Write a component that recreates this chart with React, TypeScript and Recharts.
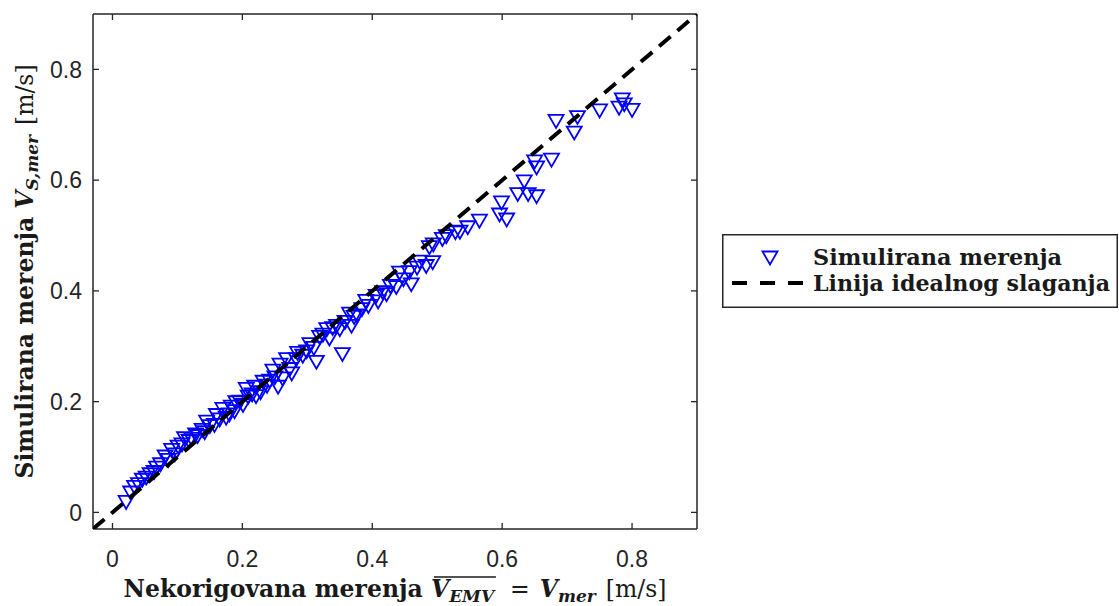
import { useLayoutEffect, useRef, useState } from 'react';
import { ScatterChart, Scatter, XAxis, YAxis, Label } from 'recharts';

// simulated measurements (x = uncorrected, y = simulated)
const simX = [
  0.021, 0.028, 0.034, 0.040, 0.046, 0.052, 0.058, 0.064, 0.068, 0.074,
  0.081, 0.086, 0.091, 0.096, 0.101, 0.107, 0.111, 0.118, 0.122, 0.128,
  0.131, 0.138, 0.142, 0.145, 0.150, 0.157, 0.160, 0.165, 0.170, 0.175,
  0.180, 0.183, 0.188, 0.190, 0.196, 0.201, 0.206, 0.209, 0.215, 0.219,
  0.221, 0.228, 0.232, 0.238, 0.242, 0.247, 0.250, 0.255, 0.258, 0.262,
  0.268, 0.273, 0.276, 0.283, 0.285, 0.293, 0.299, 0.304, 0.310, 0.314,
  0.319, 0.324, 0.330, 0.334, 0.339, 0.345, 0.350, 0.354, 0.358, 0.365,
  0.368, 0.372, 0.377, 0.384, 0.390, 0.394, 0.406, 0.409, 0.416, 0.422,
  0.428, 0.437, 0.442, 0.448, 0.457, 0.460, 0.469, 0.473, 0.483, 0.488,
  0.493, 0.494, 0.508, 0.514, 0.528, 0.535, 0.547, 0.565, 0.596, 0.599,
  0.607, 0.624, 0.634, 0.640, 0.650, 0.653, 0.653, 0.676, 0.683, 0.711,
  0.716, 0.750, 0.780, 0.785, 0.788, 0.800,
];
const simY = [
  0.018, 0.035, 0.045, 0.050, 0.058, 0.062, 0.068, 0.072, 0.080, 0.086,
  0.100, 0.094, 0.112, 0.104, 0.118, 0.122, 0.133, 0.128, 0.132, 0.140,
  0.137, 0.148, 0.144, 0.163, 0.155, 0.157, 0.175, 0.167, 0.186, 0.170,
  0.176, 0.190, 0.182, 0.198, 0.199, 0.193, 0.222, 0.208, 0.212, 0.226,
  0.209, 0.216, 0.235, 0.228, 0.237, 0.255, 0.243, 0.226, 0.266, 0.241,
  0.276, 0.258, 0.250, 0.276, 0.287, 0.282, 0.290, 0.303, 0.296, 0.271,
  0.316, 0.320, 0.330, 0.313, 0.332, 0.336, 0.330, 0.285, 0.343, 0.358,
  0.336, 0.352, 0.355, 0.366, 0.381, 0.372, 0.390, 0.380, 0.397, 0.393,
  0.408, 0.406, 0.432, 0.420, 0.433, 0.411, 0.441, 0.452, 0.444, 0.478,
  0.451, 0.483, 0.493, 0.498, 0.505, 0.506, 0.514, 0.526, 0.537, 0.559,
  0.528, 0.574, 0.597, 0.574, 0.633, 0.570, 0.622, 0.636, 0.706, 0.685,
  0.713, 0.725, 0.730, 0.745, 0.736, 0.726,
];

// ideal agreement line y = x
const idealX = [-0.03, 0.9];
const idealY = [-0.03, 0.9];

const axisTicks = [0, 0.2, 0.4, 0.6, 0.8];
const axisDomain: [number, number] = [-0.03, 0.9];

const simData = simX.map((x, i) => ({ x, y: simY[i] }));
const idealData = idealX.map((x, i) => ({ x, y: idealY[i] }));

const AXIS = '#262626';
const BLUE = '#0000ff';
const SERIF = '"DejaVu Serif", serif';
const SANS = '"Liberation Sans", Arial, sans-serif';
const TITLE_SIZE = 23.5;
const SUB_SIZE = 17;
const TICK_LEN = 6;
const X_MARGIN = 22;
const Y_MARGIN = 11;

// MATLAB style ticks: short marks pointing into the plot
function BottomTick(props: any) {
  const { x, y, payload } = props;
  const base = y - X_MARGIN;
  return (
    <g>
      <line x1={x} x2={x} y1={base} y2={base - TICK_LEN} stroke={AXIS} strokeWidth={1.3} />
      <text x={x} y={y} dy="0.71em" textAnchor="middle" fill={AXIS} fontSize={23} fontFamily={SANS}>
        {String(payload.value)}
      </text>
    </g>
  );
}

function LeftTick(props: any) {
  const { x, y, payload } = props;
  const base = x + Y_MARGIN;
  return (
    <g>
      <line x1={base} x2={base + TICK_LEN} y1={y} y2={y} stroke={AXIS} strokeWidth={1.3} />
      <text x={x} y={y} dy="0.355em" textAnchor="end" fill={AXIS} fontSize={23} fontFamily={SANS}>
        {String(payload.value)}
      </text>
    </g>
  );
}

function TopTick(props: any) {
  const { x, y } = props;
  return <line x1={x} x2={x} y1={y} y2={y + TICK_LEN} stroke={AXIS} strokeWidth={1.3} />;
}

function RightTick(props: any) {
  const { x, y } = props;
  return <line x1={x} x2={x - TICK_LEN} y1={y} y2={y} stroke={AXIS} strokeWidth={1.3} />;
}

function DownTriangle(props: any) {
  const { cx, cy } = props;
  if (cx == null || cy == null) return <g />;
  const hw = 7.5;
  const hh = 6.5;
  return (
    <path
      d={`M${cx - hw},${cy - hh}L${cx + hw},${cy - hh}L${cx},${cy + hh}Z`}
      fill="none"
      stroke={BLUE}
      strokeWidth={1.8}
    />
  );
}

const NoShape = () => <g />;

function XTitle(props: any) {
  const vb = props.viewBox || { x: 0, y: 0, width: 0, height: 0 };
  const cx = vb.x + vb.width / 2;
  const y = vb.y + 68;
  const vRef = useRef<SVGTSpanElement>(null);
  const subRef = useRef<SVGTSpanElement>(null);
  const [bar, setBar] = useState<{ x1: number; x2: number; y: number } | null>(null);

  useLayoutEffect(() => {
    const a = vRef.current?.getBBox();
    const b = subRef.current?.getBBox();
    if (a && b) setBar({ x1: a.x + 3, x2: b.x + b.width, y: a.y + 2 });
  }, [cx, y]);

  return (
    <g>
      <text x={cx} y={y} textAnchor="middle" fontFamily={SERIF} fontSize={TITLE_SIZE} fontWeight="bold" fill="#1a1a1a">
        <tspan>Nekorigovana merenja </tspan>
        <tspan ref={vRef} fontStyle="italic">V</tspan>
        <tspan ref={subRef} fontStyle="italic" fontSize={SUB_SIZE} dy={5}>EMV</tspan>
        <tspan dy={-5} dx={16} fontWeight="normal">=</tspan>
        <tspan dx={10} fontStyle="italic">V</tspan>
        <tspan fontStyle="italic" fontSize={SUB_SIZE} dy={5}>mer</tspan>
        <tspan dy={-5} dx={10} fontWeight="normal">[m/s]</tspan>
      </text>
      {bar && <line x1={bar.x1} x2={bar.x2} y1={bar.y} y2={bar.y} stroke="#1a1a1a" strokeWidth={1.3} />}
    </g>
  );
}

function YTitle(props: any) {
  const vb = props.viewBox || { x: 0, y: 0, width: 0, height: 0 };
  const x = 33;
  const cy = vb.y + vb.height / 2;
  return (
    <text
      x={x}
      y={cy}
      transform={`rotate(-90, ${x}, ${cy})`}
      textAnchor="middle"
      fontFamily={SERIF}
      fontSize={TITLE_SIZE}
      fontWeight="bold"
      fill="#1a1a1a"
    >
      <tspan>Simulirana merenja </tspan>
      <tspan fontStyle="italic">V</tspan>
      <tspan fontStyle="italic" fontSize={SUB_SIZE} dy={5}>S,mer</tspan>
      <tspan dy={-5} dx={10} fontWeight="normal">[m/s]</tspan>
    </text>
  );
}

function LegendBox() {
  return (
    <svg
      width={396}
      height={74}
      style={{ position: 'absolute', left: 722, top: 234, overflow: 'visible' }}
    >
      <rect x={0.75} y={0.75} width={394.5} height={72.5} fill="#fff" stroke={AXIS} strokeWidth={1.5} />
      <path d="M40.5,17.5L55.5,17.5L48,30.5Z" fill="none" stroke={BLUE} strokeWidth={1.8} />
      <line x1={10} x2={81} y1={49} y2={49} stroke="#000" strokeWidth={4} strokeDasharray="15 13" />
      <text
        x={91}
        y={31}
        fontFamily={SERIF}
        fontSize={22}
        fontWeight="bold"
        fill="#1a1a1a"
        textLength={249}
        lengthAdjust="spacingAndGlyphs"
      >
        Simulirana merenja
      </text>
      <text
        x={91}
        y={57}
        fontFamily={SERIF}
        fontSize={22}
        fontWeight="bold"
        fill="#1a1a1a"
        textLength={297}
        lengthAdjust="spacingAndGlyphs"
      >
        Linija idealnog slaganja
      </text>
    </svg>
  );
}

export default function App() {
  return (
    <div style={{ position: 'absolute', left: 0, top: 0, width: 1119, height: 606, background: '#fff' }}>
      <ScatterChart width={1119} height={606} margin={{ top: 13, right: 421, bottom: 27, left: 33 }}>
        <XAxis
          dataKey="x"
          type="number"
          domain={axisDomain}
          ticks={axisTicks}
          interval={0}
          allowDataOverflow
          height={50}
          tick={<BottomTick />}
          tickLine={false}
          tickSize={0}
          tickMargin={X_MARGIN}
          stroke={AXIS}
          strokeWidth={1.5}
        >
          <Label content={<XTitle />} />
        </XAxis>
        <XAxis
          xAxisId="top"
          orientation="top"
          dataKey="x"
          type="number"
          domain={axisDomain}
          ticks={axisTicks}
          interval={0}
          allowDataOverflow
          height={1}
          tick={<TopTick />}
          tickLine={false}
          tickSize={0}
          tickMargin={0}
          stroke={AXIS}
          strokeWidth={1.5}
        />
        <YAxis
          dataKey="y"
          type="number"
          domain={axisDomain}
          ticks={axisTicks}
          interval={0}
          allowDataOverflow
          width={60}
          tick={<LeftTick />}
          tickLine={false}
          tickSize={0}
          tickMargin={Y_MARGIN}
          stroke={AXIS}
          strokeWidth={1.5}
        >
          <Label content={<YTitle />} />
        </YAxis>
        <YAxis
          yAxisId="right"
          orientation="right"
          dataKey="y"
          type="number"
          domain={axisDomain}
          ticks={axisTicks}
          interval={0}
          allowDataOverflow
          width={1}
          tick={<RightTick />}
          tickLine={false}
          tickSize={0}
          tickMargin={0}
          stroke={AXIS}
          strokeWidth={1.5}
        />
        <Scatter name="Simulirana merenja" data={simData} shape={<DownTriangle />} isAnimationActive={false} />
        <Scatter
          name="Linija idealnog slaganja"
          xAxisId="top"
          yAxisId="right"
          data={idealData}
          shape={NoShape}
          line={{ stroke: '#000', strokeWidth: 4, strokeDasharray: '15 9' }}
          isAnimationActive={false}
        />
      </ScatterChart>
      <LegendBox />
    </div>
  );
}
